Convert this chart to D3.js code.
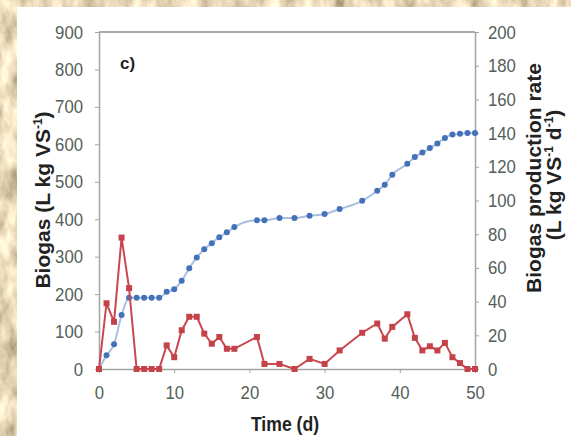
<!DOCTYPE html>
<html>
<head>
<meta charset="utf-8">
<script src="https://cdn.jsdelivr.net/npm/d3@7"></script>
<style>
    body { margin: 0; background: #c8ad86; }
    svg { display: block; font-family: "Liberation Sans", Arial, sans-serif; }
</style>
</head>
<body>
<svg id="chart" width="571" height="436"></svg>
<script>
// days where samples were taken
const days = [0, 1, 2, 3, 4, 5, 6, 7, 8, 9, 10, 11, 12, 13, 14, 15, 16, 17, 18,
    21, 22, 24, 26, 28, 30, 32, 35, 37, 38, 39, 41, 42, 43, 44, 45, 46, 47, 48, 49, 50];
// cumulative biogas (L kg VS-1), left axis
const biogas = [0, 37, 66, 144, 190, 190, 190, 190, 190, 206, 213, 236, 269, 298, 320, 336, 352, 365, 379,
    397, 397, 403, 403, 409, 414, 427, 449, 476, 492, 519, 548, 566, 578, 590, 602, 617, 626, 628, 630, 630];
// production rate (L kg VS-1 d-1), right axis
const rate = [0, 39, 28, 78, 48, 0, 0, 0, 0, 14, 7, 23, 31, 31, 21, 15, 19, 12, 12,
    19, 3, 3, 0, 6, 3, 11, 21.5, 27, 18, 25, 32.5, 18.5, 11, 13.5, 11, 15.5, 7, 3.5, 0, 0];

const leftTicks = [0, 100, 200, 300, 400, 500, 600, 700, 800, 900];
const rightTicks = [0, 20, 40, 60, 80, 100, 120, 140, 160, 180, 200];
const timeTicks = [0, 10, 20, 30, 40, 50];

const svg = d3.select('#chart');

// stone texture behind the figure
const defs = svg.append('defs');
const filt = defs.append('filter').attr('id', 'stone')
    .attr('x', 0).attr('y', 0).attr('width', '100%').attr('height', '100%');
filt.append('feTurbulence')
    .attr('type', 'fractalNoise')
    .attr('baseFrequency', '0.06 0.03')
    .attr('numOctaves', 5)
    .attr('seed', 7);
filt.append('feColorMatrix')
    .attr('type', 'matrix')
    .attr('values', '1.3 0 0 0 0.15  1.2 0 0 0 0.08  1.0 0 0 0 -0.02  0 0 0 0 1');

svg.append('rect')
    .attr('width', 571).attr('height', 436)
    .attr('filter', 'url(#stone)');

// white sheet of the figure
svg.append('rect')
    .attr('x', 17).attr('y', 7)
    .attr('width', 554).attr('height', 429)
    .attr('fill', '#fff');

const plotLeft = 99, plotRight = 475, plotTop = 32, plotBottom = 369;

const x = d3.scaleLinear().domain([0, 50]).range([plotLeft, plotRight]);
const yLeft = d3.scaleLinear().domain([0, 900]).range([plotBottom, plotTop]);
const yRight = d3.scaleLinear().domain([0, 200]).range([plotBottom, plotTop]);

// squeeze axis labels a bit, the original is narrow
function squeeze(sel, k) {
    sel.each(function () {
        const w = this.getComputedTextLength();
        d3.select(this)
            .attr('textLength', w * k)
            .attr('lengthAdjust', 'spacingAndGlyphs');
    });
}

function styleAxis(g) {
    g.select('.domain').attr('stroke', '#a3a3a3').attr('stroke-width', 1.5);
    g.selectAll('.tick line').attr('stroke', '#a3a3a3');
    g.selectAll('.tick text')
        .attr('fill', '#536057')
        .style('font-size', '19px')
        .call(squeeze, 0.88);
}

svg.append('g')
    .attr('transform', 'translate(' + plotLeft + ',0)')
    .call(d3.axisLeft(yLeft).tickValues(leftTicks).tickSize(4).tickSizeOuter(0).tickPadding(12))
    .call(styleAxis);

svg.append('g')
    .attr('transform', 'translate(' + plotRight + ',0)')
    .call(d3.axisRight(yRight).tickValues(rightTicks).tickSize(4).tickSizeOuter(0).tickPadding(9))
    .call(styleAxis);

svg.append('g')
    .attr('transform', 'translate(0,' + plotBottom + ')')
    .call(d3.axisBottom(x).tickValues(timeTicks).tickSize(4).tickSizeOuter(0).tickPadding(13))
    .call(styleAxis);

// top frame line
svg.append('line')
    .attr('x1', plotLeft).attr('x2', plotRight)
    .attr('y1', plotTop).attr('y2', plotTop)
    .attr('stroke', '#aaa').attr('stroke-width', 2);

const cum = days.map((d, i) => ({day: d, v: biogas[i]}));
const prod = days.map((d, i) => ({day: d, v: rate[i]}));

// cumulative biogas: smooth line + dots
svg.append('path')
    .datum(cum)
    .attr('fill', 'none')
    .attr('stroke', '#a8bfe0')
    .attr('stroke-width', 2)
    .attr('d', d3.line().curve(d3.curveMonotoneX).x(d => x(d.day)).y(d => yLeft(d.v)));

svg.append('g')
    .selectAll('circle')
    .data(cum)
    .enter()
    .append('circle')
    .attr('cx', d => x(d.day))
    .attr('cy', d => yLeft(d.v))
    .attr('r', 3)
    .attr('fill', '#4472b8');

// production rate: straight segments + squares
svg.append('path')
    .datum(prod)
    .attr('fill', 'none')
    .attr('stroke', '#c9484f')
    .attr('stroke-width', 2)
    .attr('d', d3.line().x(d => x(d.day)).y(d => yRight(d.v)));

svg.append('g')
    .selectAll('rect')
    .data(prod)
    .enter()
    .append('rect')
    .attr('x', d => x(d.day) - 3)
    .attr('y', d => yRight(d.v) - 3)
    .attr('width', 6)
    .attr('height', 6)
    .attr('fill', '#c4424a');

// titles
function sup(t, s) {
    t.append('tspan').text(s).style('font-size', '12px').attr('dy', '-8');
}

const lt = svg.append('text')
    .attr('transform', 'translate(50,200) rotate(-90)')
    .attr('text-anchor', 'middle')
    .style('font-size', '21px').style('font-weight', 'bold').attr('fill', '#222');
lt.append('tspan').text('Biogas (L kg VS');
sup(lt, '-1');
lt.append('tspan').text(')').attr('dy', '8');

svg.append('text')
    .attr('transform', 'translate(541,178) rotate(-90)')
    .attr('text-anchor', 'middle')
    .style('font-size', '21px').style('font-weight', 'bold').attr('fill', '#222')
    .text('Biogas production rate');

const rt2 = svg.append('text')
    .attr('transform', 'translate(561,175) rotate(-90)')
    .attr('text-anchor', 'middle')
    .style('font-size', '21px').style('font-weight', 'bold').attr('fill', '#222');
rt2.append('tspan').text('(L kg VS');
sup(rt2, '-1');
rt2.append('tspan').text(' d').attr('dy', '8');
sup(rt2, '-1');
rt2.append('tspan').text(')').attr('dy', '8');

svg.append('text')
    .attr('x', 285).attr('y', 431)
    .attr('text-anchor', 'middle')
    .style('font-size', '20px').style('font-weight', 'bold').attr('fill', '#222')
    .text('Time (d)')
    .call(squeeze, 0.88);

svg.append('text')
    .attr('x', 120).attr('y', 69)
    .style('font-size', '17px').style('font-weight', 'bold').attr('fill', '#222')
    .text('c)');
</script>
</body>
</html>
